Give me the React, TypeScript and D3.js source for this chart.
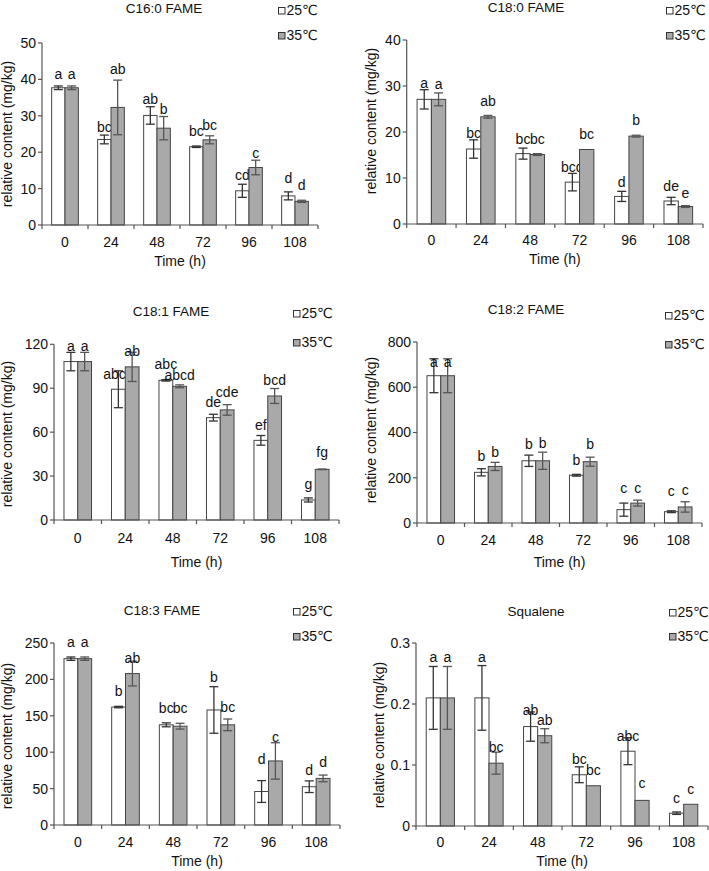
import React from "react";
import * as d3 from "d3";

const times = ["0", "24", "48", "72", "96", "108"];
const seriesNames = ["25℃", "35℃"];

// C16:0 FAME
const c160_25 = [37.7, 23.5, 30.1, 21.5, 9.4, 8.0];
const c160_25err = [0.5, 1.2, 2.4, 0.2, 1.8, 1.1];
const c160_35 = [37.7, 32.3, 26.6, 23.4, 15.8, 6.5];
const c160_35err = [0.5, 7.5, 3.2, 1.1, 2.0, 0.3];
const c160_25sig = ["a", "bc", "ab", "bc", "cd", "d"];
const c160_35sig = ["a", "ab", "b", "bc", "c", "d"];

// C18:0 FAME
const c180_25 = [27.1, 16.3, 15.3, 9.1, 6.0, 5.0];
const c180_25err = [2.1, 2.0, 1.2, 1.9, 1.1, 0.8];
const c180_35 = [27.1, 23.3, 15.1, 16.2, 19.1, 3.8];
const c180_35err = [1.4, 0.3, 0.2, 0, 0.2, 0.2];
const c180_25sig = ["a", "bc", "bc", "bcd", "d", "de"];
const c180_35sig = ["a", "ab", "bc", "bc", "b", "e"];

// C18:1 FAME
const c181_25 = [108.2, 89.3, 95.4, 69.9, 54.4, 13.7];
const c181_25err = [6.3, 12.6, 0.5, 2.3, 3.3, 1.4];
const c181_35 = [108.2, 104.6, 91.3, 75.2, 84.7, 34.6];
const c181_35err = [6.3, 10.0, 1.0, 3.6, 5.1, 0.2];
const c181_25sig = ["a", "abcd", "abc", "de", "ef", "g"];
const c181_35sig = ["a", "ab", "abcd", "cde", "bcd", "fg"];

// C18:2 FAME
const c182_25 = [651, 224, 275, 211, 59, 50];
const c182_25err = [75, 16, 25, 4, 29, 4];
const c182_35 = [651, 250, 275, 271, 88, 71];
const c182_35err = [75, 18, 38, 20, 13, 23];
const c182_25sig = ["a", "b", "b", "b", "c", "c"];
const c182_35sig = ["a", "b", "b", "b", "c", "c"];

// C18:3 FAME
const c183_25 = [228.5, 162, 137.6, 158, 46, 52.6];
const c183_25err = [2.3, 1, 2.7, 32, 15, 8];
const c183_35 = [228.5, 208, 135.7, 137.6, 88, 64];
const c183_35err = [2.3, 17, 4, 8, 25, 4.6];
const c183_25sig = ["a", "b", "bc", "b", "d", "d"];
const c183_35sig = ["a", "ab", "bc", "bc", "c", "d"];

// Squalene
const sq_25 = [0.21, 0.21, 0.163, 0.084, 0.1226, 0.021];
const sq_25err = [0.0515, 0.053, 0.024, 0.013, 0.022, 0.002];
const sq_35 = [0.21, 0.103, 0.148, 0.066, 0.042, 0.0356];
const sq_35err = [0.0515, 0.018, 0.0115, 0, 0, 0];
const sq_25sig = ["a", "a", "ab", "bc", "abc", "c"];
const sq_35sig = ["a", "bc", "ab", "bc", "c", "c"];

const panelTitles = ["C16:0 FAME", "C18:0 FAME", "C18:1 FAME", "C18:2 FAME", "C18:3 FAME", "Squalene"];
const yTicksList = [
  [0, 10, 20, 30, 40, 50],
  [0, 10, 20, 30, 40],
  [0, 30, 60, 90, 120],
  [0, 200, 400, 600, 800],
  [0, 50, 100, 150, 200, 250],
  [0, 0.1, 0.2, 0.3],
];

const panelData = [
  { v1: c160_25, e1: c160_25err, v2: c160_35, e2: c160_35err, s1: c160_25sig, s2: c160_35sig },
  { v1: c180_25, e1: c180_25err, v2: c180_35, e2: c180_35err, s1: c180_25sig, s2: c180_35sig },
  { v1: c181_25, e1: c181_25err, v2: c181_35, e2: c181_35err, s1: c181_25sig, s2: c181_35sig },
  { v1: c182_25, e1: c182_25err, v2: c182_35, e2: c182_35err, s1: c182_25sig, s2: c182_35sig },
  { v1: c183_25, e1: c183_25err, v2: c183_35, e2: c183_35err, s1: c183_25sig, s2: c183_35sig },
  { v1: sq_25, e1: sq_25err, v2: sq_35, e2: sq_35err, s1: sq_25sig, s2: sq_35sig },
];

// layout (positions only)
const layouts = [
  { ax0: 42, ax1: 318, yTop: 43, yBot: 225, tX: 164, tY: 12.7, lX: 278, lY1: 7, lY2: 32, ylX: 11.5, ylY: 134, tlY: 247, xtY: 266 },
  { ax0: 406.7, ax1: 703, yTop: 40, yBot: 224, tX: 526, tY: 11.7, lX: 666, lY1: 7, lY2: 32, ylX: 376, ylY: 121, tlY: 245, xtY: 264 },
  { ax0: 54, ax1: 339, yTop: 344.3, yBot: 520, tX: 171, tY: 316, lX: 293, lY1: 310, lY2: 339, ylX: 11.5, ylY: 434, tlY: 543, xtY: 567 },
  { ax0: 417, ax1: 702, yTop: 342, yBot: 523, tX: 526, tY: 314, lX: 665, lY1: 312, lY2: 341, ylX: 376, ylY: 430, tlY: 545, xtY: 567 },
  { ax0: 54, ax1: 340, yTop: 643, yBot: 825, tX: 162, tY: 615, lX: 293, lY1: 608, lY2: 633, ylX: 11.5, ylY: 736, tlY: 847, xtY: 866 },
  { ax0: 416, ax1: 708, yTop: 643, yBot: 826, tX: 536, tY: 616, lX: 669, lY1: 609, lY2: 633, ylX: 384, ylY: 735, tlY: 847, xtY: 866 },
];

// pixel gap between the top of each error bar and the letter's baseline (layout)
const labelGaps = [
  [[7, 3, 3, 10, 4, 9], [7, 6, 3, 6, 2.5, 10.5]],
  [[1.5, 1.7, 4.3, 1.7, 4.7, 6], [4, 9.3, 9.3, 10.3, 10.7, 7.3]],
  [[1.3, -8.3, 11, 7.7, 5.7, 9], [1.3, -3.7, 4.7, 8, 4, 12]],
  [[-8, 7.3, 6, 9.3, 10, 14.7], [-8, 5.7, 4, 8.3, 7.3, 6.3]],
  [[10, 10, 10, 4.3, 17, 5.7], [10, -1.7, 10.3, 7, 0.7, 8.3]],
  [[4, 4, -2.7, 2.7, -3, 9.3], [4, 0, 3.7, 10.7, 12, 10.3]],
];

const FONT = "'Liberation Sans', Arial, 'DejaVu Sans', sans-serif";
const AXIS = "#555";
const BAR_STROKE = "#444";
const GRAY = "#a9a9a9";

function Panel({ idx }: { idx: number }) {
  const L = layouts[idx];
  const D = panelData[idx];
  const G = labelGaps[idx];
  const ticks = yTicksList[idx];
  const yMax = ticks[ticks.length - 1];
  const x = d3.scaleBand<string>().domain(times).range([L.ax0, L.ax1]).paddingInner(0.42).paddingOuter(0.21);
  const step = x.step();
  const y = d3.scaleLinear().domain([0, yMax]).range([L.yBot, L.yTop]);
  const bw = x.bandwidth() / 2;
  const cap = 4.5;
  const fmt = (v: number) => (v === 0 ? "0" : String(v));
  const series = [
    { vals: D.v1, errs: D.e1, sig: D.s1, fill: "#fff", errColor: "#333", off: 0, gaps: G[0] },
    { vals: D.v2, errs: D.e2, sig: D.s2, fill: GRAY, errColor: "#555", off: bw, gaps: G[1] },
  ];
  const boundaries = d3.range(times.length + 1).map((i) => L.ax0 + i * step);
  return (
    <g fontFamily={FONT}>
      <text x={L.tX} y={L.tY} textAnchor="middle" fontSize={13.5} fill="#111">{panelTitles[idx]}</text>
      {[L.lY1, L.lY2].map((ly, i) => (
        <g key={i}>
          <rect x={L.lX + 0.5} y={ly + 0.5} width={6.5} height={6.5} fill={i === 0 ? "#fff" : GRAY} stroke="#333" strokeWidth={1} />
          <text x={L.lX + 8.5} y={ly + 8} fontSize={14} fill="#111">{seriesNames[i]}</text>
        </g>
      ))}
      {series.map((s, si) => (
        <g key={si}>
          {times.map((t, i) => {
            const bx = (x(t) as number) + s.off;
            const top = y(s.vals[i]);
            return (
              <rect key={t} x={bx} y={top} width={bw} height={L.yBot - top} fill={s.fill} stroke={BAR_STROKE} strokeWidth={1} />
            );
          })}
          {times.map((t, i) => {
            const cx = (x(t) as number) + s.off + bw / 2;
            const hi = y(s.vals[i] + s.errs[i]);
            const lo = y(s.vals[i] - s.errs[i]);
            if (s.errs[i] <= 0) return null;
            return (
              <g key={t} stroke={s.errColor} strokeWidth={1.3}>
                <line x1={cx} x2={cx} y1={hi} y2={lo} />
                <line x1={cx - cap} x2={cx + cap} y1={hi} y2={hi} />
                <line x1={cx - cap} x2={cx + cap} y1={lo} y2={lo} />
              </g>
            );
          })}
          {times.map((t, i) => {
            const cx = (x(t) as number) + s.off + bw / 2;
            const hi = y(s.vals[i] + s.errs[i]);
            return (
              <text key={t} x={cx} y={hi - s.gaps[i]} textAnchor="middle" fontSize={14} fill="#111">{s.sig[i]}</text>
            );
          })}
        </g>
      ))}
      <line x1={L.ax0} x2={L.ax0} y1={L.yTop} y2={L.yBot} stroke={AXIS} strokeWidth={1.2} />
      {ticks.map((tv) => (
        <g key={tv}>
          <line x1={L.ax0 - 4} x2={L.ax0} y1={y(tv)} y2={y(tv)} stroke={AXIS} strokeWidth={1.2} />
          <text x={L.ax0 - 6} y={y(tv)} dy="0.35em" textAnchor="end" fontSize={14} fill="#111">{fmt(tv)}</text>
        </g>
      ))}
      <line x1={L.ax0} x2={L.ax1} y1={L.yBot} y2={L.yBot} stroke={AXIS} strokeWidth={1.2} />
      {boundaries.map((bx, i) => (
        <line key={i} x1={bx} x2={bx} y1={L.yBot} y2={L.yBot + 4} stroke={AXIS} strokeWidth={1.2} />
      ))}
      {times.map((t) => (
        <text key={t} x={(x(t) as number) + x.bandwidth() / 2} y={L.tlY} textAnchor="middle" fontSize={14} fill="#111">{t}</text>
      ))}
      <text x={(L.ax0 + L.ax1) / 2} y={L.xtY} textAnchor="middle" fontSize={14} fill="#111">Time (h)</text>
      <text transform={`translate(${L.ylX},${L.ylY}) rotate(-90)`} textAnchor="middle" fontSize={14} fill="#111">relative content (mg/kg)</text>
    </g>
  );
}

export default function App() {
  return (
    <svg width={709} height={871} style={{ position: "absolute", left: 0, top: 0, background: "#fff" }}>
      <rect width={709} height={871} fill="#fff" />
      {layouts.map((_, i) => (
        <Panel key={i} idx={i} />
      ))}
    </svg>
  );
}
